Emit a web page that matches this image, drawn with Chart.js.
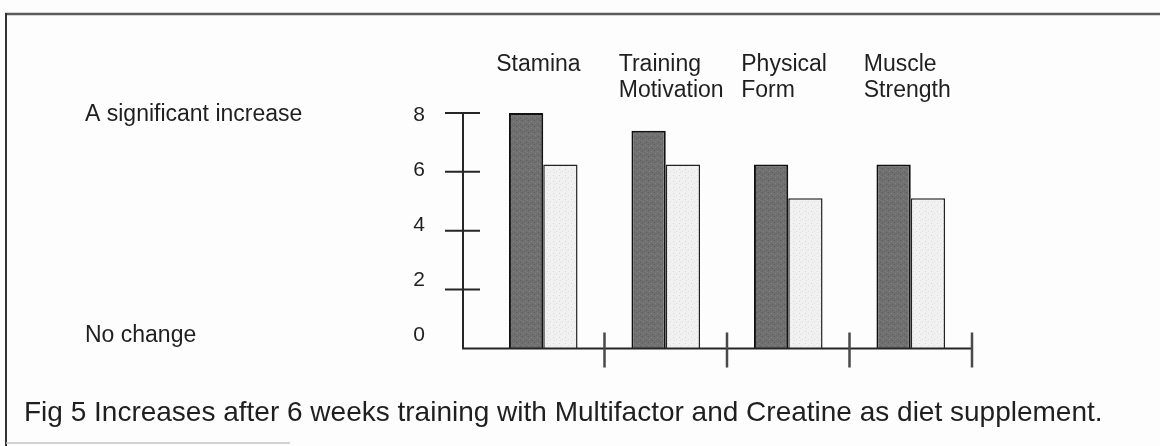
<!DOCTYPE html>
<html>
<head>
<meta charset="utf-8">
<title>Fig 5</title>
<script src="https://cdn.jsdelivr.net/npm/chart.js@4.4.1/dist/chart.umd.min.js"></script>
<style>
  html, body { margin: 0; padding: 0; background: #fdfdfd; }
  #wrap { position: relative; width: 1160px; height: 446px; }
</style>
</head>
<body>
<div id="wrap"><canvas id="fig5"></canvas></div>
<script>
// Values
const categories = ['Stamina', ['Training', 'Motivation'], ['Physical', 'Form'], ['Muscle', 'Strength']];
const darkValues = [8, 7.4, 6.25, 6.25];
const lightValues = [6.25, 6.25, 5.1, 5.1];
const yTicks = [0, 2, 4, 6, 8];
const sideLabels = { 8: 'A significant increase', 0: 'No change' };
const caption = 'Fig 5 Increases after 6 weeks training with Multifactor and Creatine as diet supplement.';

// the printed numbers sit on a slightly squeezed scale compared to the bars
const labelMin = -0.47;
const labelMax = 8.07;

const FONT = "'Liberation Sans', Arial, Helvetica, sans-serif";
const INK = '#1f1f1f';

// small screen-tone tiles so the bars look a bit like the printed ones
function toneTile(base, dots) {
    const c = document.createElement('canvas');
    c.width = 6;
    c.height = 6;
    const g = c.getContext('2d');
    g.fillStyle = base;
    g.fillRect(0, 0, 6, 6);
    dots.forEach(d => {
        g.fillStyle = d[2];
        g.fillRect(d[0], d[1], 1, 1);
    });
    return g.createPattern(c, 'repeat');
}
const darkTone = toneTile('#707070', [[0, 0, '#5c5c5c'], [3, 1, '#838383'], [1, 3, '#808080'], [4, 4, '#5e5e5e'], [2, 5, '#666'], [5, 2, '#7a7a7a']]);
const lightTone = toneTile('#f1f1f1', [[1, 1, '#d9d9d9'], [4, 3, '#dedede'], [2, 4, '#e2e2e2']]);

// Frame of the scan + the hand drawn looking axes
const handDrawnAxes = {
    id: 'handDrawnAxes',
    beforeDraw(chart) {
        const ctx = chart.ctx;
        ctx.save();
        ctx.strokeStyle = '#5a5a5a';
        ctx.lineWidth = 2.5;
        ctx.beginPath();
        ctx.moveTo(5, 14);
        ctx.lineTo(chart.width, 14);
        ctx.stroke();
        ctx.strokeStyle = '#333';
        ctx.lineWidth = 2;
        ctx.beginPath();
        ctx.moveTo(6, 13);
        ctx.lineTo(6, chart.height);
        ctx.stroke();
        ctx.strokeStyle = '#c4c4c4';
        ctx.lineWidth = 1.5;
        ctx.beginPath();
        ctx.moveTo(6, 443);
        ctx.lineTo(290, 443);
        ctx.stroke();
        ctx.restore();
    },
    afterDatasetsDraw(chart) {
        const { ctx, chartArea, scales: { x, y } } = chart;
        const axisX = chartArea.left - 19;
        const base = y.getPixelForValue(0);

        ctx.save();
        ctx.strokeStyle = '#262626';
        ctx.lineWidth = 2;
        ctx.beginPath();
        ctx.moveTo(axisX, y.getPixelForValue(yTicks[yTicks.length - 1]));
        ctx.lineTo(axisX, base);
        ctx.lineTo(chartArea.right, base);
        yTicks.forEach(v => {
            if (v === 0) return;
            const py = y.getPixelForValue(v);
            ctx.moveTo(axisX - 18, py);
            ctx.lineTo(axisX + 17, py);
        });
        ctx.stroke();

        // separators between the categories
        ctx.strokeStyle = '#4a4a4a';
        ctx.lineWidth = 2.5;
        ctx.beginPath();
        categories.forEach((c, i) => {
            const px = x.getPixelForValue(i + 0.5);
            ctx.moveTo(px, base - 16);
            ctx.lineTo(px, base + 19);
        });
        ctx.stroke();
        ctx.restore();
    }
};

const ctx = document.getElementById('fig5');

new Chart(ctx, {
    type: 'bar',
    data: {
        labels: categories,
        datasets: [{
            label: 'Dark bars',
            data: darkValues,
            backgroundColor: darkTone,
            borderColor: '#111',
            borderWidth: 2,
            barPercentage: 1,
            categoryPercentage: 0.56,
            yAxisID: 'y',
            clip: false
        }, {
            label: 'Light bars',
            data: lightValues,
            backgroundColor: lightTone,
            borderColor: '#222',
            borderWidth: 1.5,
            barPercentage: 1,
            categoryPercentage: 0.56,
            yAxisID: 'y',
            clip: false
        }]
    },
    options: {
        responsive: true,
        maintainAspectRatio: false,
        animation: false,
        layout: {
            padding: { left: 24, right: 0, top: 0, bottom: 0 }
        },
        plugins: {
            legend: { display: false },
            tooltip: { enabled: false },
            title: {
                display: true,
                text: caption,
                position: 'bottom',
                align: 'start',
                color: INK,
                font: { family: FONT, size: 28, weight: 'normal', lineHeight: 1.2 },
                padding: { top: 48, bottom: 16 }
            }
        },
        scales: {
            x: {
                type: 'category',
                position: 'top',
                offset: true,
                grid: { display: false, drawTicks: false },
                border: { display: false },
                ticks: {
                    align: 'start',
                    crossAlign: 'far',
                    labelOffset: -47,
                    padding: 9,
                    autoSkip: false,
                    maxRotation: 0,
                    color: INK,
                    font: { family: FONT, size: 23, lineHeight: 1.15 }
                },
                afterFit(scale) { scale.height = 113; }
            },
            y: {
                position: 'right',
                min: 0,
                max: 8,
                grid: { display: false, drawTicks: false },
                border: { display: false },
                ticks: { display: false },
                afterFit(scale) { scale.width = 188; }
            },
            yl: {
                type: 'linear',
                position: 'left',
                weight: 1,
                min: labelMin,
                max: labelMax,
                afterBuildTicks(scale) {
                    scale.ticks = yTicks.map(v => ({ value: v }));
                },
                grid: { display: false, drawTicks: false },
                border: { display: false },
                ticks: {
                    padding: 57,
                    color: INK,
                    font: { family: FONT, size: 21 }
                },
                afterFit(scale) { scale.width = 408; }
            },
            yt: {
                type: 'linear',
                position: 'left',
                weight: 2,
                min: labelMin,
                max: labelMax,
                afterBuildTicks(scale) {
                    scale.ticks = Object.keys(sideLabels).map(k => ({ value: Number(k) }));
                },
                grid: { display: false, drawTicks: false },
                border: { display: false },
                ticks: {
                    mirror: true,
                    padding: 11,
                    color: INK,
                    font: { family: FONT, size: 23 },
                    callback: function(value) {
                        return sideLabels[value] || '';
                    }
                },
                afterFit(scale) { scale.width = 50; }
            }
        }
    },
    plugins: [handDrawnAxes]
});
</script>
</body>
</html>
